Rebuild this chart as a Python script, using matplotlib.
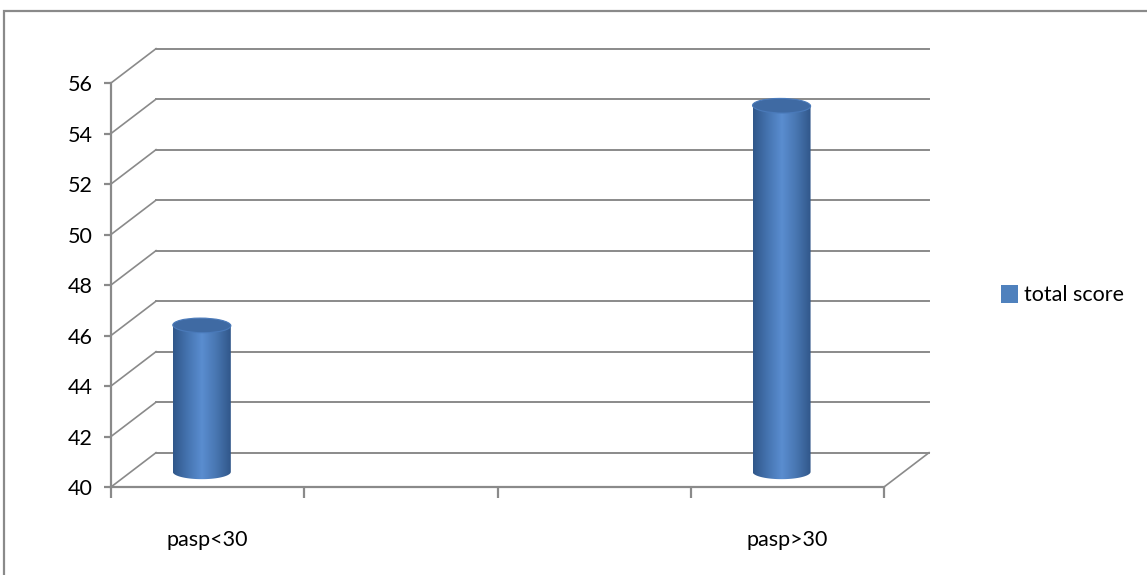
import numpy as np
import matplotlib
matplotlib.use("Agg")
import matplotlib.pyplot as plt
from matplotlib.colors import LinearSegmentedColormap
from matplotlib.patches import Ellipse, Polygon, Patch, Rectangle

plt.rcParams['font.family'] = ['Lato', 'DejaVu Sans']

# data
categories = ["pasp<30", "", "", "pasp>30"]
total_score = [45.8, None, None, 54.5]
y_ticks = [40, 42, 44, 46, 48, 50, 52, 54, 56]

grid_col = "#8a8a8a"
depth_x, depth_y = 0.233, 1.36      # offset of the back wall
base_lift = 0.6                     # cylinders stand a little behind the front edge
cyl_w = 0.30
ell_h = 0.58

fig = plt.figure(figsize=(11.47, 5.75), dpi=100)
ax = fig.add_axes([111 / 1147, (575 - 487) / 575, 773 / 1147, 404 / 575])
ax.set_xlim(0, 4)
ax.set_ylim(40, 56)
for s in ax.spines.values():
    s.set_visible(False)

# back wall gridlines + diagonals from the front axis
for v in y_ticks:
    ax.plot([depth_x, 4 + depth_x], [v + depth_y, v + depth_y], color=grid_col, lw=1.4, clip_on=False, zorder=1)
    ax.plot([0, depth_x], [v, v + depth_y], color=grid_col, lw=1.2, clip_on=False, zorder=1)

# floor edges
ax.plot([0, 4], [40, 40], color=grid_col, lw=1.6, clip_on=False, zorder=1)
ax.plot([4, 4 + depth_x], [40, 40 + depth_y], color=grid_col, lw=1.2, clip_on=False, zorder=1)
ax.plot([0, 0], [40, 56], color=grid_col, lw=1.6, clip_on=False, zorder=2)

# ticks
ax.set_yticks(y_ticks)
ax.tick_params(axis='y', length=5, width=1.6, color=grid_col, labelsize=15.5, pad=8)
ax.set_xticks(range(5))
ax.set_xticklabels([])
ax.tick_params(axis='x', which='major', length=8, width=1.6, color=grid_col)
ax.set_xticks([i + 0.5 for i in range(len(categories))], minor=True)
ax.set_xticklabels(categories, minor=True)
ax.tick_params(axis='x', which='minor', length=0, labelsize=15.5, pad=31)

# cylinders
cmap = LinearSegmentedColormap.from_list(
    "cyl", ["#30578a", "#4574b0", "#5a8dd0", "#4876b1", "#31578a"], N=256)
grad = np.linspace(0, 1, 200).reshape(1, -1)
t = np.linspace(np.pi, 2 * np.pi, 60)

for i, val in enumerate(total_score):
    if val is None:
        continue
    xc = i + 0.47
    y0 = 40 + base_lift
    y1 = val + base_lift
    left, right = xc - cyl_w / 2, xc + cyl_w / 2
    # outline: left side, bottom half-ellipse, right side
    arc_x = xc + cyl_w / 2 * np.cos(t)
    arc_y = y0 + ell_h / 2 * np.sin(t)
    pts = [(left, y1)] + list(zip(arc_x, arc_y)) + [(right, y1)]
    body = Polygon(pts, closed=True, facecolor="none", edgecolor="none", transform=ax.transData)
    ax.add_patch(body)
    im = ax.imshow(grad, cmap=cmap, aspect='auto', extent=[left, right, y0 - ell_h, y1],
                   zorder=3, interpolation='bilinear')
    im.set_clip_path(body)
    top = Ellipse((xc, y1), cyl_w, ell_h, angle=2, facecolor="#3f6aa3",
                  edgecolor="#4a7aba", lw=0.8, zorder=4)
    ax.add_patch(top)

ax.set_xlim(0, 4)
ax.set_ylim(40, 56)

# legend
fig.legend(handles=[Patch(facecolor="#4f81bd", edgecolor="none")], labels=["total score"],
           loc='center left', bbox_to_anchor=(982 / 1147, 1 - 295 / 575), frameon=False,
           fontsize=15.5, handlelength=0.75, handleheight=0.95, handletextpad=0.3)

# chart area border
fig.patches.append(Rectangle((4 / 1147, -0.05), 1.2, 1 - 11 / 575 + 0.05, transform=fig.transFigure,
                             fill=False, edgecolor="#8a8a8a", lw=1.6))

fig.savefig("out.png", dpi=100)
